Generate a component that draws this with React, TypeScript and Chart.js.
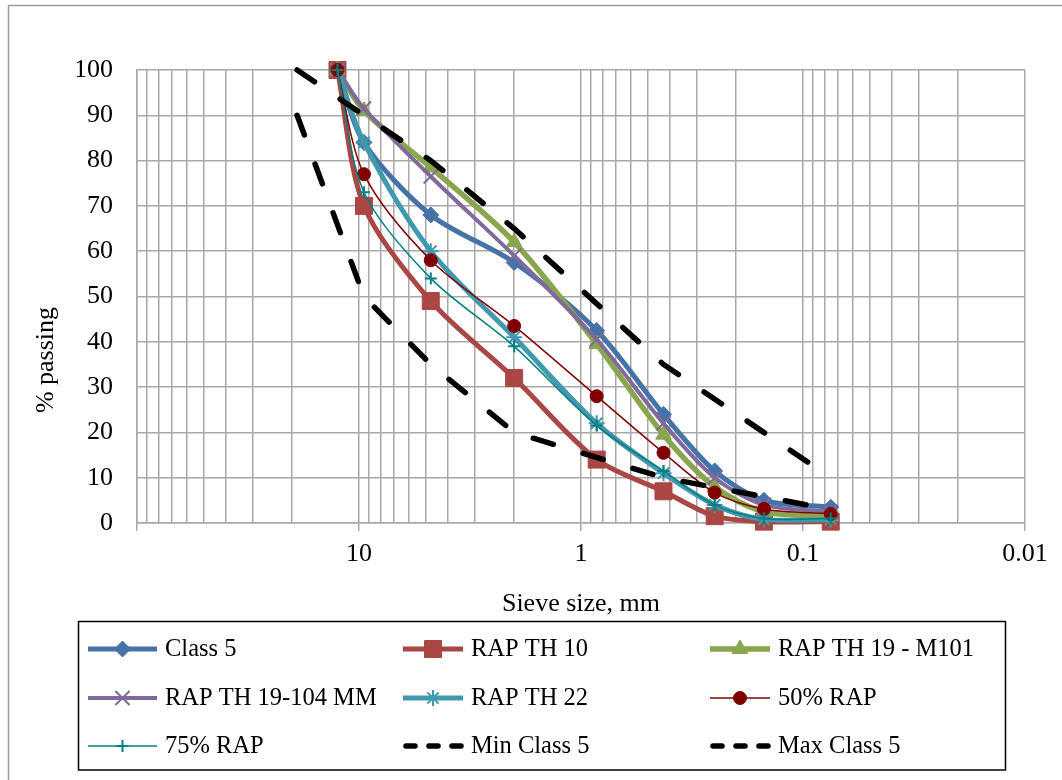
import React, { useEffect, useRef } from "react";
import { Chart, registerables } from "chart.js";

Chart.register(...registerables);

// ---------- data ----------
const sieveSizes = [12.5, 9.5, 4.75, 2.0, 0.85, 0.425, 0.25, 0.15, 0.075];
const specSieves = [19, 9.5, 4.75, 2.0, 0.425, 0.075];

const class5 = [100, 84, 68, 57.5, 42.5, 24, 11.5, 5, 3.5];
const rapTh10 = [100, 70, 49, 32, 14, 7, 1.5, 0.3, 0.3];
const rapTh19M101 = [100, 91, 78.5, 62, 39.5, 19.5, 8, 2.5, 1.5];
const rapTh19104 = [100, 91.5, 76.5, 59, 40.5, 22, 10, 4, 2.5];
const rapTh22 = [100, 84, 60, 41, 22, 11, 4, 0.8, 0.8];
const rap50 = [100, 77, 58, 43.5, 28, 15.5, 6.7, 3.1, 2];
const rap75 = [100, 73, 54, 39, 21.5, 11.5, 4, 1, 1];
const minClass5 = [90, 50, 35, 20, 10, 3];
const maxClass5 = [100, 90, 80, 65, 35, 10];

const seriesLabels = [
  "Class 5",
  "RAP TH 10",
  "RAP TH 19 - M101",
  "RAP TH 19-104 MM",
  "RAP TH 22",
  "50% RAP",
  "75% RAP",
  "Min Class 5",
  "Max Class 5",
];

const xLabelTicks = [10, 1, 0.1, 0.01];
const xTitle = "Sieve size, mm";
const yTitle = "% passing";

const FONT = '"Liberation Serif", "Times New Roman", serif';
const GRID = "#a8a8a8";

// all log gridline positions (1..9 x 10^n)
const xGridTicks: number[] = [];
for (let e = -2; e <= 1; e++) {
  for (let k = 1; k <= 9; k++) xGridTicks.push(Number((k * Math.pow(10, e)).toPrecision(3)));
}
xGridTicks.push(100);

function drawMarker(ctx: CanvasRenderingContext2D, style: string, x: number, y: number, r: number, color: string, bw: number) {
  ctx.save();
  ctx.fillStyle = color;
  ctx.strokeStyle = color;
  ctx.lineWidth = bw;
  ctx.setLineDash([]);
  ctx.beginPath();
  const q = Math.SQRT1_2 * r;
  switch (style) {
    case "rectRot":
      ctx.moveTo(x, y - r);
      ctx.lineTo(x + r, y);
      ctx.lineTo(x, y + r);
      ctx.lineTo(x - r, y);
      ctx.closePath();
      ctx.fill();
      ctx.stroke();
      break;
    case "rect":
      ctx.rect(x - q, y - q, 2 * q, 2 * q);
      ctx.fill();
      ctx.stroke();
      break;
    case "triangle": {
      let a = 0;
      ctx.moveTo(x + Math.sin(a) * r, y - Math.cos(a) * r);
      a += (2 * Math.PI) / 3;
      ctx.lineTo(x + Math.sin(a) * r, y - Math.cos(a) * r);
      a += (2 * Math.PI) / 3;
      ctx.lineTo(x + Math.sin(a) * r, y - Math.cos(a) * r);
      ctx.closePath();
      ctx.fill();
      ctx.stroke();
      break;
    }
    case "circle":
      ctx.arc(x, y, r, 0, Math.PI * 2);
      ctx.fill();
      ctx.stroke();
      break;
    case "crossRot":
      ctx.moveTo(x - q, y - q);
      ctx.lineTo(x + q, y + q);
      ctx.moveTo(x - q, y + q);
      ctx.lineTo(x + q, y - q);
      ctx.stroke();
      break;
    case "cross":
      ctx.moveTo(x, y - r);
      ctx.lineTo(x, y + r);
      ctx.moveTo(x - r, y);
      ctx.lineTo(x + r, y);
      ctx.stroke();
      break;
    case "star":
      ctx.moveTo(x, y - r);
      ctx.lineTo(x, y + r);
      ctx.moveTo(x - r, y);
      ctx.lineTo(x + r, y);
      ctx.moveTo(x - q, y - q);
      ctx.lineTo(x + q, y + q);
      ctx.moveTo(x - q, y + q);
      ctx.lineTo(x + q, y - q);
      ctx.stroke();
      break;
    default:
      break;
  }
  ctx.restore();
}

const decorPlugin = {
  id: "decor",
  afterDraw(chart: any) {
    const ctx: CanvasRenderingContext2D = chart.ctx;
    const area = chart.chartArea;
    ctx.save();
    // outer frame
    ctx.strokeStyle = "#9a9a9a";
    ctx.lineWidth = 1.5;
    ctx.strokeRect(8.5, 5.5, 1300, 1000);

    // axis titles
    ctx.fillStyle = "#000";
    ctx.font = `26px ${FONT}`;
    ctx.textAlign = "center";
    ctx.textBaseline = "middle";
    ctx.fillText(xTitle, (area.left + area.right) / 2, 604);
    ctx.save();
    ctx.translate(46, 360);
    ctx.rotate(-Math.PI / 2);
    ctx.fillText(yTitle, 0, 0);
    ctx.restore();

    // legend box
    ctx.strokeStyle = "#000";
    ctx.lineWidth = 1.5;
    ctx.strokeRect(78.5, 621.5, 927, 148.5);

    const colX = [88, 403, 710];
    const textX = [165, 471, 778];
    const rowY = [649, 698, 746];
    chart.data.datasets.forEach((ds: any, i: number) => {
      const c = i % 3;
      const x0 = colX[c];
      const y = rowY[Math.floor(i / 3)];
      const dashed = ds.borderDash && ds.borderDash.length > 0;
      const xs = dashed ? x0 + 3 : x0;
      const x1 = dashed ? xs + 55 : textX[c] - 8;
      ctx.beginPath();
      ctx.strokeStyle = ds.borderColor;
      ctx.lineWidth = ds.borderWidth;
      ctx.lineCap = dashed ? "round" : "butt";
      ctx.setLineDash(dashed ? [9, 14] : []);
      ctx.moveTo(xs, y);
      ctx.lineTo(x1, y);
      ctx.stroke();
      ctx.setLineDash([]);
      if (ds.pointRadius > 0) {
        drawMarker(ctx, ds.pointStyle, (x0 + x1) / 2, y, ds.pointRadius, ds.pointBorderColor, ds.pointBorderWidth);
      }
      ctx.fillStyle = "#000";
      ctx.font = `24.5px ${FONT}`;
      ctx.textAlign = "left";
      ctx.textBaseline = "middle";
      ctx.fillText(ds.label, textX[c], y + 1);
    });
    ctx.restore();
  },
};

function makeSeries(i: number, xs: number[], ys: number[], color: string, width: number, style: string | false, radius: number, pbw: number, dashed = false) {
  return {
    label: seriesLabels[i],
    data: xs.map((x, k) => ({ x, y: ys[k] })),
    borderColor: color,
    backgroundColor: color,
    borderWidth: width,
    borderDash: dashed ? [21, 31] : [],
    borderCapStyle: dashed ? "round" : "butt",
    pointStyle: style,
    pointRadius: radius,
    pointHoverRadius: radius,
    pointBackgroundColor: color,
    pointBorderColor: color,
    pointBorderWidth: pbw,
    tension: dashed ? 0 : 0.3,
    clip: false,
    order: 20 - i,
  };
}

export default function App() {
  const ref = useRef<HTMLCanvasElement | null>(null);

  useEffect(() => {
    if (!ref.current) return;
    const datasets = [
      makeSeries(0, sieveSizes, class5, "#4572A7", 5, "rectRot", 8, 1),
      makeSeries(1, sieveSizes, rapTh10, "#AA4643", 5, "rect", 12, 1),
      makeSeries(2, sieveSizes, rapTh19M101, "#89A54E", 5.5, "triangle", 9, 1),
      makeSeries(3, sieveSizes, rapTh19104, "#80699B", 4, "crossRot", 10, 2),
      makeSeries(4, sieveSizes, rapTh22, "#4198AF", 5, "star", 8, 2),
      makeSeries(5, sieveSizes, rap50, "#800000", 1.5, "circle", 6.5, 1),
      makeSeries(6, sieveSizes, rap75, "#008080", 1.5, "cross", 6, 2),
      makeSeries(7, specSieves, minClass5, "#000000", 5.5, false, 0, 0, true),
      makeSeries(8, specSieves, maxClass5, "#000000", 5.5, false, 0, 0, true),
    ];

    const chart = new Chart(ref.current, {
      type: "line",
      data: { datasets } as any,
      options: {
        responsive: false,
        animation: false,
        devicePixelRatio: 1,
        layout: { padding: { left: 77, right: 37, top: 70, bottom: 197 } },
        plugins: {
          legend: { display: false },
          tooltip: { enabled: false },
          title: { display: false },
        },
        scales: {
          x: {
            type: "logarithmic",
            reverse: true,
            min: 0.01,
            max: 100,
            position: "bottom",
            afterBuildTicks: (scale: any) => {
              scale.ticks = xGridTicks.map((v) => ({ value: v, major: false }));
            },
            afterFit: (scale: any) => {
              scale.height = 60;
            },
            ticks: {
              autoSkip: false,
              maxRotation: 0,
              minRotation: 0,
              padding: 8,
              color: "#000",
              font: { family: FONT, size: 26 },
              callback: (v: any) => (xLabelTicks.includes(Number(v)) ? String(v) : ""),
            },
            grid: {
              color: GRID,
              lineWidth: 1.5,
              tickLength: 8,
              tickColor: (c: any) =>
                c.tick && (xLabelTicks.includes(c.tick.value) || c.tick.value === 100) ? GRID : "rgba(0,0,0,0)",
            },
            border: { color: GRID, width: 1.5 },
          },
          y: {
            type: "linear",
            min: 0,
            max: 100,
            afterFit: (scale: any) => {
              scale.width = 60;
            },
            ticks: {
              stepSize: 10,
              padding: 24,
              color: "#000",
              font: { family: FONT, size: 26 },
            },
            grid: { color: GRID, lineWidth: 1.5, drawTicks: false },
            border: { color: GRID, width: 1.5 },
          },
        },
      } as any,
      plugins: [decorPlugin],
    });
    return () => chart.destroy();
  }, []);

  return (
    <div style={{ position: "absolute", left: 0, top: 0, width: 1062, height: 780, background: "#fff" }}>
      <canvas ref={ref} width={1062} height={780} style={{ width: 1062, height: 780, display: "block" }} />
    </div>
  );
}
